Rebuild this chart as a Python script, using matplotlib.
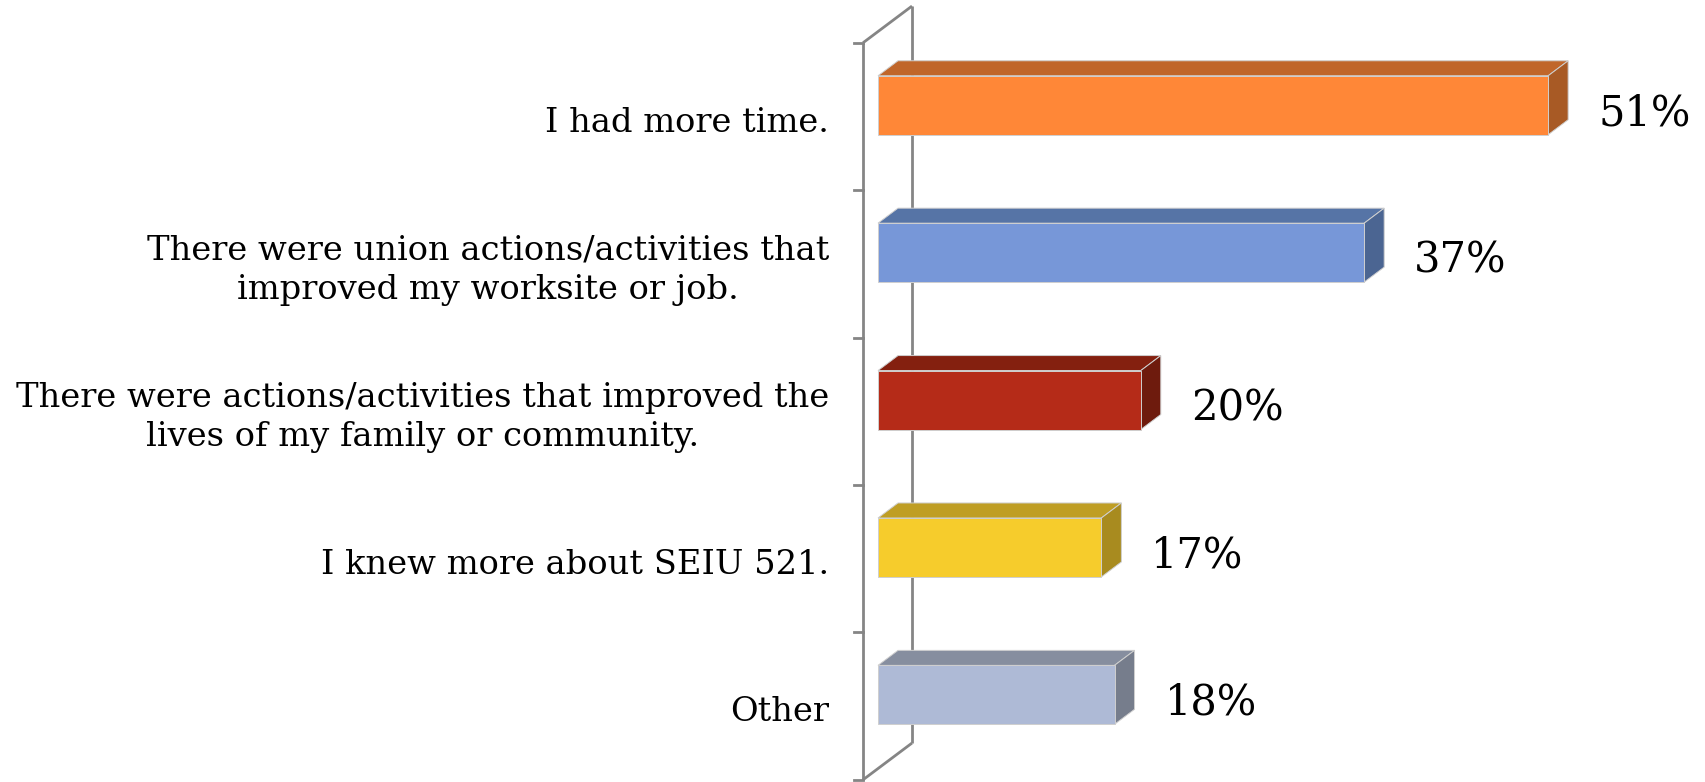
import matplotlib
matplotlib.use("Agg")
import matplotlib.pyplot as plt
from matplotlib.patches import Polygon
from matplotlib.lines import Line2D
import numpy as np

categories = [
    "I had more time.",
    "There were union actions/activities that\nimproved my worksite or job.",
    "There were actions/activities that improved the\nlives of my family or community.",
    "I knew more about SEIU 521.",
    "Other",
]
values = [51, 37, 20, 17, 18]
value_labels = ["51%", "37%", "20%", "17%", "18%"]

front_colors = ["#FF8737", "#7797D8", "#B52B18", "#F6CC2C", "#AEBAD6"]
top_colors = ["#C0662A", "#5674A6", "#84200F", "#BF9E24", "#868E9F"]
side_colors = ["#A85A25", "#4B6592", "#6E1B0D", "#A88B1F", "#767D8C"]

W, H = 1706, 782
fig = plt.figure(figsize=(W / 100, H / 100), dpi=100)
ax = fig.add_axes([0, 0, 1, 1])
px_per_unit = 13.14
x_front_axis = 863
cat_top = 116.5
cat_step = 147.4
ax.set_xlim(-x_front_axis / px_per_unit, (W - x_front_axis) / px_per_unit)
ax.set_ylim((H - cat_top) / cat_step, -cat_top / cat_step)
ax.axis("off")

DY = 0.75  # vertical shift per pixel of depth


def P(x, y, depth):
    """Project data point at a depth (in pixels) to display coords."""
    dx, dy = ax.transData.transform((x, y))
    return (dx + depth, dy + depth * DY)


def poly(pts, color):
    ax.add_patch(Polygon(pts, closed=True, transform=None, facecolor=color,
                         edgecolor="#CFCFCF", linewidth=0.7, zorder=3))


# walls
wall_color = "#858585"
lw = 2.0
wall_depth = 49
y0, y1 = -0.5, len(categories) - 0.5
segs = [
    [P(0, y0, 0), P(0, y1, 0)],
    [P(0, y0, wall_depth), P(0, y1, wall_depth)],
    [P(0, y0, 0), P(0, y0, wall_depth)],
    [P(0, y1, 0), P(0, y1, wall_depth)],
]
for s in segs:
    xs, ys = zip(*s)
    ax.add_line(Line2D(xs, ys, transform=None, color=wall_color, lw=lw,
                       zorder=1, solid_capstyle="butt"))
for b in np.arange(y0, y1 + 0.01, 1.0):
    a = P(0, b, 0)
    ax.add_line(Line2D([a[0] - 9, a[0]], [a[1], a[1]], transform=None,
                       color=wall_color, lw=lw, zorder=1))

# bars
d1, d2 = 15, 35
bh = 0.40
for i, (v, fc, tc, sc) in enumerate(zip(values, front_colors, top_colors, side_colors)):
    yt, yb = i - bh / 2, i + bh / 2
    # top face
    poly([P(0, yt, d1), P(v, yt, d1), P(v, yt, d2), P(0, yt, d2)], tc)
    # side face
    poly([P(v, yt, d1), P(v, yb, d1), P(v, yb, d2), P(v, yt, d2)], sc)
    # front face
    poly([P(0, yt, d1), P(v, yt, d1), P(v, yb, d1), P(0, yb, d1)], fc)
    # value label
    lx, _ = P(v, i, d2)
    _, ly = P(v, i, d1)
    ax.text(lx + 30, ly - 8, value_labels[i], transform=None, ha="left",
            va="center", fontsize=30, family="DejaVu Serif", color="black")

# category labels
for i, c in enumerate(categories):
    lx, ly = P(0, i, 0)
    ax.text(lx - 34, ly - 6, c, transform=None, ha="right", va="center",
            multialignment="center", fontsize=24.3, family="DejaVu Serif",
            color="black", linespacing=1.3)

fig.savefig("out.png", dpi=100)
